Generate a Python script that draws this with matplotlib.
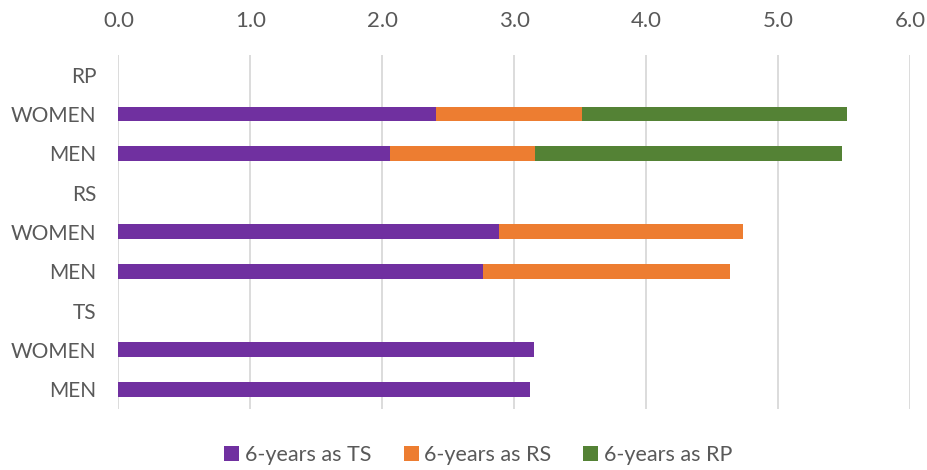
import matplotlib
matplotlib.use("Agg")
import matplotlib.pyplot as plt
import numpy as np

# Rows listed bottom to top; group header rows carry no bars
labels = ["MEN", "WOMEN", "TS", "MEN", "WOMEN", "RS", "MEN", "WOMEN", "RP"]
years_ts = [3.12, 3.153, 0, 2.763, 2.887, 0, 2.058, 2.407, 0]
years_rs = [0, 0, 0, 1.873, 1.848, 0, 1.097, 1.105, 0]
years_rp = [0, 0, 0, 0, 0, 0, 2.325, 2.008, 0]
series_names = ["6-years as TS", "6-years as RS", "6-years as RP"]
colors = ["#7030A0", "#ED7D31", "#548235"]

plt.rcParams["font.family"] = ["Lato", "DejaVu Sans"]
text_color = "#595959"

fig = plt.figure(figsize=(9.27, 4.70), dpi=100)
ax = fig.add_axes([0.1278, 0.13, 0.8540, 0.753])

y = np.arange(len(labels))
h = 0.38
left = np.zeros(len(labels))
handles = []
for vals, name, c in zip([years_ts, years_rs, years_rp], series_names, colors):
    vals = np.array(vals)
    b = ax.barh(y, vals, left=left, height=h, color=c, label=name, zorder=3)
    handles.append(b)
    left = left + vals

ax.set_xlim(0, 6)
ax.set_ylim(-0.5, len(labels) - 0.5)
ax.set_xticks(np.arange(0, 6.01, 1.0))
ax.set_xticklabels([f"{v:.1f}" for v in np.arange(0, 6.01, 1.0)])
ax.set_yticks(y)
ax.set_yticklabels(labels)
ax.xaxis.tick_top()
ax.tick_params(axis="both", length=0, colors=text_color)
ax.tick_params(axis="x", pad=17, labelsize=16)
ax.tick_params(axis="y", pad=16, labelsize=15)
ax.grid(axis="x", color="#D9D9D9", linewidth=1.3, zorder=0)
for s in ax.spines.values():
    s.set_visible(False)

fig.legend(handles=handles, labels=series_names, loc="lower center",
           bbox_to_anchor=(0.516, -0.03), ncol=3, frameon=False, fontsize=15.5,
           handlelength=0.7, handleheight=0.7, handletextpad=0.25,
           columnspacing=1.5, labelcolor=text_color)

fig.savefig("out.png", dpi=100)
